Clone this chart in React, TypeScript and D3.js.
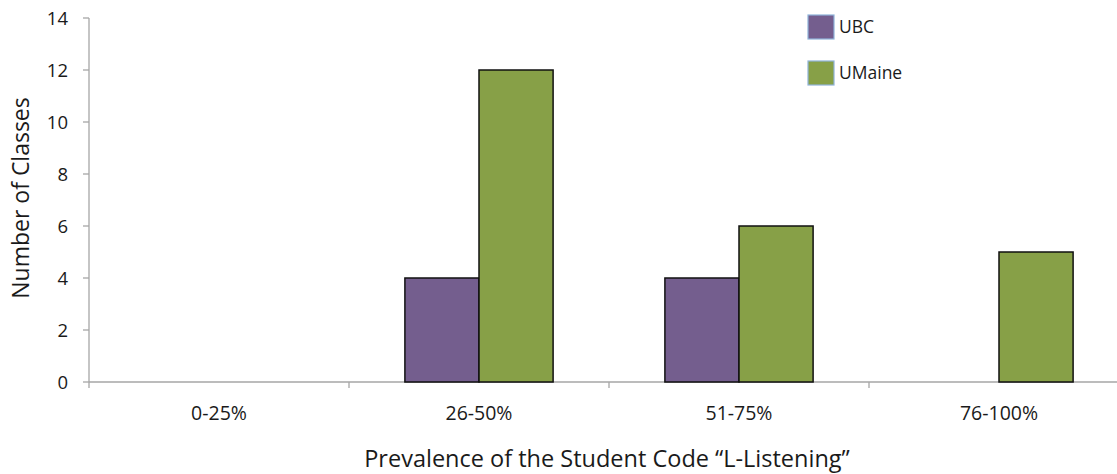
import React from "react";
import * as d3 from "d3";

const categories = ["0-25%", "26-50%", "51-75%", "76-100%"];
const seriesNames = ["UBC", "UMaine"];
const ubcValues = [0, 4, 4, 0];
const umaineValues = [0, 12, 6, 5];
const yTicks = [0, 2, 4, 6, 8, 10, 12, 14];
const colors = ["#745E8E", "#87A047"];

const W = 1117;
const H = 474;
const left = 89;
const bandW = 260;
const y0 = 382;
const yTop = 18;
const font = "'Open Sans', Lato, sans-serif";

export default function App() {
  const x = d3
    .scaleBand<string>()
    .domain(categories)
    .range([left, left + bandW * categories.length])
    .padding(0);
  const y = d3.scaleLinear().domain([0, 14]).range([y0, yTop]);
  const groupW = x.bandwidth() * 0.57;
  const sub = d3
    .scaleBand<string>()
    .domain(seriesNames)
    .range([(x.bandwidth() - groupW) / 2, (x.bandwidth() + groupW) / 2])
    .padding(0);
  const series = [ubcValues, umaineValues];
  const axisColor = "#A6A6A6";
  const textColor = "#1a1a1a";

  return (
    <svg
      width={W}
      height={H}
      style={{ position: "absolute", left: 0, top: 0, background: "#fff" }}
      fontFamily={font}
    >
      {/* y axis */}
      <line x1={left} x2={left} y1={yTop} y2={y0} stroke={axisColor} strokeWidth={1.3} />
      {yTicks.map((t) => (
        <g key={t}>
          <line x1={left - 6} x2={left} y1={y(t)} y2={y(t)} stroke={axisColor} strokeWidth={1.3} />
          <text x={68} y={y(t)} dy="0.36em" textAnchor="end" fontSize={18.5} fill={textColor}>
            {t}
          </text>
        </g>
      ))}
      {/* x axis */}
      <line x1={left} x2={left + bandW * categories.length} y1={y0} y2={y0} stroke={axisColor} strokeWidth={1.3} />
      {categories.map((c) => (
        <line
          key={"t" + c}
          x1={x(c) as number}
          x2={x(c) as number}
          y1={y0}
          y2={y0 + 6}
          stroke={axisColor}
          strokeWidth={1.3}
        />
      ))}
      {categories.map((c) => (
        <text
          key={"l" + c}
          x={(x(c) as number) + x.bandwidth() / 2}
          y={413}
          dy="0.36em"
          textAnchor="middle"
          fontSize={19.5}
          fill={textColor}
        >
          {c}
        </text>
      ))}
      {/* bars */}
      {categories.map((c, i) =>
        seriesNames.map((s, j) => {
          const v = series[j][i];
          if (!v) return null;
          return (
            <rect
              key={c + s}
              x={(x(c) as number) + (sub(s) as number)}
              y={y(v)}
              width={sub.bandwidth()}
              height={y(0) - y(v)}
              fill={colors[j]}
              stroke="#111"
              strokeWidth={1.5}
            />
          );
        })
      )}
      {/* axis titles */}
      <text
        transform={`translate(21,198) rotate(-90)`}
        textAnchor="middle"
        dy="0.36em"
        fontSize={23}
        fill={textColor}
      >
        Number of Classes
      </text>
      <text x={607} y={467} textAnchor="middle" fontSize={23.5} fill={textColor}>
        Prevalence of the Student Code “L-Listening”
      </text>
      {/* legend */}
      {seriesNames.map((s, j) => (
        <g key={"lg" + s} transform={`translate(808,${15 + j * 46})`}>
          <rect width={26} height={24} fill={colors[j]} stroke="#8FB3D9" strokeWidth={1.2} />
          <text x={31} y={12} dy="0.36em" fontSize={17.5} fill={textColor}>
            {s}
          </text>
        </g>
      ))}
    </svg>
  );
}
